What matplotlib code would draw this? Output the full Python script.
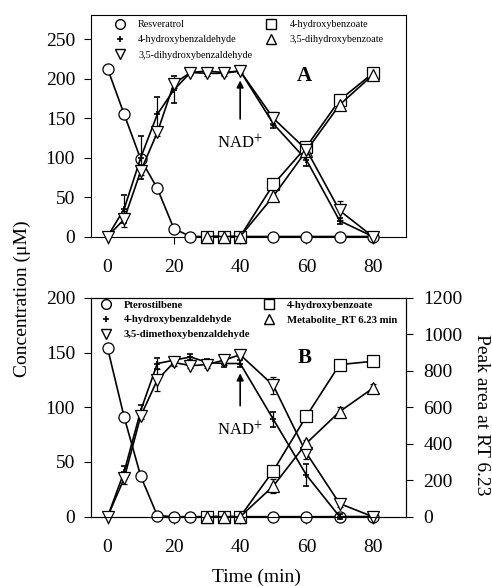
import matplotlib
matplotlib.use("Agg")
import matplotlib.pyplot as plt
from matplotlib.lines import Line2D

plt.rcParams['font.family'] = ['Liberation Serif', 'DejaVu Serif']
plt.rcParams['mathtext.fontset'] = 'stix'

time = [0, 5, 10, 15, 20, 25, 30, 35, 40, 50, 60, 70, 80]
time_acid = [30, 35, 40, 50, 60, 70, 80]

# panel A (uM)
resveratrol = [213, 155, 98, 61, 10, 0, 0, 0, 0, 0, 0, 0, 0]
hba_a = [0, 35, 100, 155, 186, 208, 210, 208, 210, 143, 97, 20, 0]
hba_a_err = [0, 18, 27, 22, 17, 3, 4, 3, 2, 5, 7, 4, 0]
dhba_a = [0, 22, 83, 132, 194, 208, 207, 207, 210, 150, 110, 33, 0]
dhba_a_err = [0, 10, 5, 5, 5, 3, 3, 3, 2, 8, 5, 12, 0]
hbz_a = [0, 0, 0, 66, 114, 173, 207]
dhbz_a = [0, 0, 0, 51, 109, 167, 205]

# panel B (uM, metabolite as peak area)
pterostilbene = [154, 91, 37, 1, 0, 0, 0, 0, 0, 0, 0, 0, 0]
hba_b = [0, 41, 97, 140, 143, 146, 141, 140, 140, 89, 38, 0, 0]
hba_b_err = [0, 5, 5, 5, 3, 3, 3, 3, 3, 7, 10, 2, 0]
dmba_b = [0, 35, 92, 125, 141, 138, 139, 143, 148, 120, 58, 12, 0]
dmba_b_err = [0, 5, 3, 10, 3, 2, 3, 4, 2, 8, 5, 3, 0]
hbz_b = [0, 0, 0, 42, 92, 139, 142]
metab_b = [0, 0, 0, 168, 403, 576, 704]
metab_b_err = [0, 0, 0, 40, 15, 25, 25]

fig = plt.figure(figsize=(4.92, 5.86), dpi=100)
ax1 = fig.add_axes([0.185, 0.5964, 0.640, 0.378])
ax2 = fig.add_axes([0.185, 0.1183, 0.640, 0.3734])

ms = 8
lw = 1.2
open_m = dict(mfc='white', mec='black', mew=0.9, color='black', lw=lw, ms=ms, clip_on=False)

def err(ax, x, y, e, marker, **kw):
    ax.errorbar(x, y, yerr=e, marker=marker, capsize=2.5, elinewidth=0.9,
                capthick=0.9, **kw)

# panel A
ax1.plot(time, resveratrol, marker='o', **open_m, zorder=3)
err(ax1, time, hba_a, hba_a_err, '+', color='black', lw=lw, ms=5, mew=1.2, clip_on=False, zorder=3)
err(ax1, time, dhba_a, dhba_a_err, 'v', **open_m, zorder=4)
ax1.plot(time_acid, hbz_a, marker='s', **open_m, zorder=3)
ax1.plot(time_acid, dhbz_a, marker='^', **open_m, zorder=4)

ax1.set_xlim(-5, 90)
ax1.set_ylim(0, 281)
ax1.set_yticks([0, 50, 100, 150, 200, 250])
ax1.set_xticks([0, 20, 40, 60, 80])
ax1.tick_params(direction='out', length=5, labelsize=14, right=False)
ax1.tick_params(axis='y', pad=6.5)
ax1.tick_params(axis='x', pad=11)
ax1.text(59.5, 203, 'A', fontsize=15, fontweight='bold', ha='center', va='center')
ax1.annotate('NAD$^{+}$', xy=(40, 198), xytext=(40, 118), ha='center', va='center',
             fontsize=12, arrowprops=dict(arrowstyle='-|>', color='black', lw=1.2,
                                          shrinkA=9, shrinkB=0, mutation_scale=10))

lms = 7
h = [Line2D([], [], ls='none', marker='o', mfc='white', mec='black', ms=lms),
     Line2D([], [], ls='none', marker='+', color='black', ms=4.5, mew=1.2),
     Line2D([], [], ls='none', marker='v', mfc='white', mec='black', ms=lms),
     Line2D([], [], ls='none', marker='s', mfc='white', mec='black', ms=lms),
     Line2D([], [], ls='none', marker='^', mfc='white', mec='black', ms=lms)]
ax1.legend(h, ['Resveratrol', '4-hydroxybenzaldehyde', '3,5-dihydroxybenzaldehyde',
               '4-hydroxybenzoate', '3,5-dihydroxybenzoate'],
           ncol=2, loc='upper left', bbox_to_anchor=(0.04, 1.005), frameon=False,
           fontsize=7.3, handletextpad=0.8, columnspacing=0.9, labelspacing=0.62,
           borderaxespad=0.2)

# panel B
ax2.plot(time, pterostilbene, marker='o', **open_m, zorder=3)
err(ax2, time, hba_b, hba_b_err, '+', color='black', lw=lw, ms=5, mew=1.2, clip_on=False, zorder=3)
err(ax2, time, dmba_b, dmba_b_err, 'v', **open_m, zorder=4)
ax2.plot(time_acid, hbz_b, marker='s', **open_m, zorder=3)

ax2.set_xlim(-5, 90)
ax2.set_ylim(0, 200)
ax2.set_yticks([0, 50, 100, 150, 200])
ax2.set_xticks([0, 20, 40, 60, 80])
ax2.tick_params(direction='out', length=5, labelsize=14)
ax2.tick_params(axis='y', pad=6.5)
ax2.tick_params(axis='x', pad=11)

ax3 = ax2.twinx()
err(ax3, time_acid, metab_b, metab_b_err, '^', **open_m, zorder=4)
ax3.set_ylim(0, 1200)
ax3.set_yticks([0, 200, 400, 600, 800, 1000, 1200])
ax3.tick_params(direction='out', length=5, labelsize=14, pad=7.5)

ax2.text(59.5, 145, 'B', fontsize=15, fontweight='bold', ha='center', va='center')
ax2.annotate('NAD$^{+}$', xy=(40, 131), xytext=(40, 79), ha='center', va='center',
             fontsize=12, arrowprops=dict(arrowstyle='-|>', color='black', lw=1.2,
                                          shrinkA=9, shrinkB=0, mutation_scale=10))
ax3.legend(h, ['Pterostilbene', '4-hydroxybenzaldehyde', '3,5-dimethoxybenzaldehyde',
               '4-hydroxybenzoate', 'Metabolite_RT 6.23 min'],
           ncol=2, loc='upper left', bbox_to_anchor=(-0.008, 1.019), frameon=False,
           prop=dict(size=7.7, weight='bold'), handletextpad=0.7, columnspacing=0.75,
           labelspacing=0.5, borderaxespad=0.2)

fig.text(0.045, 0.49, 'Concentration (\u03bcM)', rotation=90, fontsize=14,
         ha='center', va='center')
fig.text(481.7 / 492, 1 - 415 / 586, 'Peak area at RT 6.23', rotation=270,
         fontsize=14, ha='center', va='center')
fig.text(256 / 492, 1 - 577 / 586, 'Time (min)', fontsize=14, ha='center', va='center')

fig.savefig('out.png', dpi=100)
